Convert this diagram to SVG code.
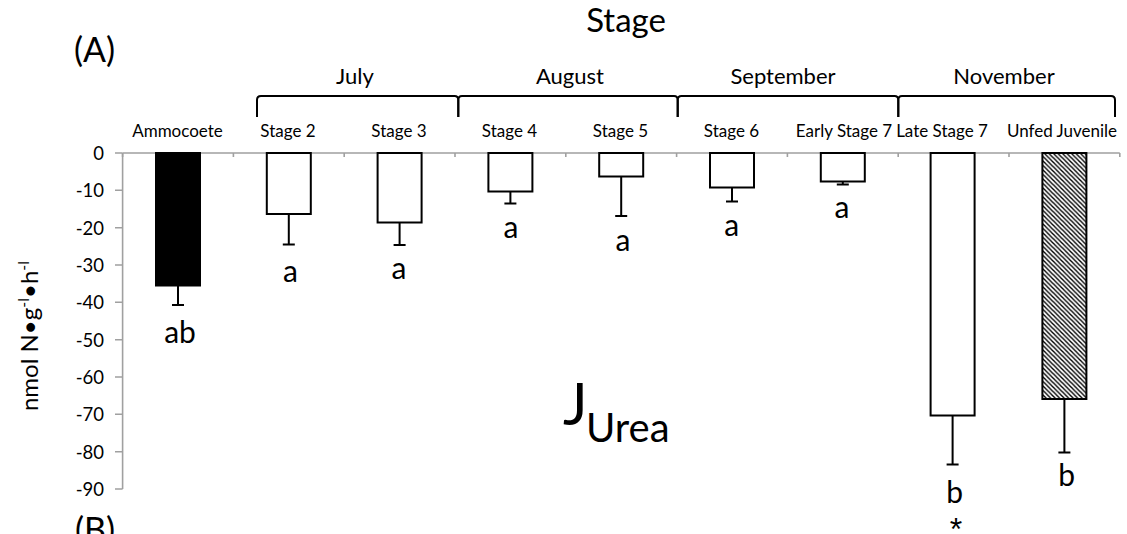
<svg xmlns="http://www.w3.org/2000/svg" width="1127" height="534" viewBox="0 0 1127 534">
<style>
text{font-family:Lato,"Liberation Sans",sans-serif;fill:#000}
.tick{font-size:18.5px;text-anchor:end}
.cat{font-size:17px;text-anchor:middle}
.mon{font-size:22px;text-anchor:middle}
.let{font-size:30px;text-anchor:middle}
.ax{stroke:#a0a0a0;stroke-width:1.6;fill:none}
.bar{stroke:#000;stroke-width:2;fill:#fff}
.err{stroke:#000;stroke-width:2;fill:none}
.br{stroke:#000;stroke-width:2;fill:none}
</style>
<defs>
<pattern id="hatch" patternUnits="userSpaceOnUse" width="4.5" height="4.5">
<rect width="4.5" height="4.5" fill="#fff"/>
<path d="M-1,-1 L5.5,5.5 M-1,3.5 L1,5.5 M3.5,-1 L5.5,1" stroke="#000" stroke-width="1.4"/>
</pattern>
</defs>
<rect width="1127" height="534" fill="#fff"/>

<text x="626" y="32" style="font-size:33px;text-anchor:middle">Stage</text>
<text x="74" y="62" style="font-size:34px">(A)</text>
<text x="75" y="542" style="font-size:34px">(B)</text>

<g id="axes">
<path class="ax" d="M122.6,153 V489 M115,153 H122.6 M115,190.3 H122.6 M115,227.7 H122.6 M115,265 H122.6 M115,302.3 H122.6 M115,339.7 H122.6 M115,377 H122.6 M115,414.3 H122.6 M115,451.7 H122.6 M115,489 H122.6"/>
<path class="ax" d="M122.6,153 H1119.8 M122.6,153 v4 M233.4,153 v4 M344.2,153 v4 M455,153 v4 M565.8,153 v4 M676.6,153 v4 M787.4,153 v4 M898.2,153 v4 M1009,153 v4 M1119.8,153 v4"/>
<text class="tick" x="104" y="160">0</text>
<text class="tick" x="104" y="197.3">-10</text>
<text class="tick" x="104" y="234.7">-20</text>
<text class="tick" x="104" y="272">-30</text>
<text class="tick" x="104" y="309.3">-40</text>
<text class="tick" x="104" y="346.7">-50</text>
<text class="tick" x="104" y="384">-60</text>
<text class="tick" x="104" y="421.3">-70</text>
<text class="tick" x="104" y="458.7">-80</text>
<text class="tick" x="104" y="496">-90</text>
<text transform="translate(38,336) rotate(-90)" style="font-size:24px;text-anchor:middle">nmol N•g<tspan dy="-9" font-size="16">-l</tspan><tspan dy="9">•h</tspan><tspan dy="-9" font-size="16">-l</tspan></text>
</g>

<g id="category-labels">
<text class="cat" x="177.5" y="137">Ammocoete</text>
<text class="cat" x="288" y="137">Stage 2</text>
<text class="cat" x="399" y="137">Stage 3</text>
<text class="cat" x="509.5" y="137">Stage 4</text>
<text class="cat" x="620.5" y="137">Stage 5</text>
<text class="cat" x="731.5" y="137">Stage 6</text>
<text class="cat" x="844" y="137">Early Stage 7</text>
<text class="cat" x="942" y="137">Late Stage 7</text>
<text class="cat" x="1062" y="137">Unfed Juvenile</text>
</g>

<g id="connectors">
<path class="br" d="M257,117 V100 Q257,96 261,96 H454.5 Q458.3,96 458.3,100 V117"/>
<path class="br" d="M458.3,117 V100 Q458.3,96 462,96 H674 Q677.7,96 677.7,100 V117"/>
<path class="br" d="M677.7,117 V100 Q677.7,96 681.5,96 H894.5 Q898.3,96 898.3,100 V117"/>
<path class="br" d="M898.3,117 V100 Q898.3,96 902,96 H1111 Q1115,96 1115,100 V117"/>
</g>
<g id="month-labels">
<text class="mon" x="355" y="83.5">July</text>
<text class="mon" x="570" y="83.5">August</text>
<text class="mon" x="783" y="83.5">September</text>
<text class="mon" x="1004" y="83.5">November</text>
</g>

<g id="bar-ammocoete">
<rect x="156" y="153" width="44" height="132.5" fill="#000" stroke="#000" stroke-width="2"/>
<path class="err" d="M178,285.5 V305 M172,305 H184"/>
<text class="let" x="180" y="343">ab</text>
</g>
<g id="bar-stage2">
<rect class="bar" x="266.8" y="153" width="44" height="61"/>
<path class="err" d="M288.8,214 V244.5 M282.8,244.5 H294.8"/>
<text class="let" x="290.5" y="281.7">a</text>
</g>
<g id="bar-stage3">
<rect class="bar" x="377.6" y="153" width="44" height="69.5"/>
<path class="err" d="M399.6,222.5 V245 M393.6,245 H405.6"/>
<text class="let" x="399" y="279.3">a</text>
</g>
<g id="bar-stage4">
<rect class="bar" x="488.4" y="153" width="44" height="38.5"/>
<path class="err" d="M510.4,191.5 V203.5 M504.4,203.5 H516.4"/>
<text class="let" x="511" y="237.7">a</text>
</g>
<g id="bar-stage5">
<rect class="bar" x="599.2" y="153" width="44" height="23.5"/>
<path class="err" d="M621.2,176.5 V216 M615.2,216 H627.2"/>
<text class="let" x="623" y="251">a</text>
</g>
<g id="bar-stage6">
<rect class="bar" x="710" y="153" width="44" height="34.5"/>
<path class="err" d="M732,187.5 V201.5 M726,201.5 H738"/>
<text class="let" x="731.7" y="236">a</text>
</g>
<g id="bar-early-stage7">
<rect class="bar" x="820.8" y="153" width="44" height="28.5"/>
<path class="err" d="M842.8,181.5 V184.5 M836.8,184.5 H848.8"/>
<text class="let" x="842" y="217.7">a</text>
</g>
<g id="bar-late-stage7">
<rect class="bar" x="930.6" y="153" width="44" height="262.5"/>
<path class="err" d="M952.6,415.5 V464.5 M946.6,464.5 H958.6"/>
<text class="let" x="954.7" y="503.3">b</text>
<text x="956" y="540" style="font-family:'Liberation Sans',sans-serif;font-size:32px;text-anchor:middle">*</text>
</g>
<g id="bar-unfed-juvenile">
<rect x="1042.4" y="153" width="44" height="246" fill="url(#hatch)" stroke="#000" stroke-width="2"/>
<path class="err" d="M1064.4,399 V452.5 M1058.4,452.5 H1070.4"/>
<text class="let" x="1066.7" y="485.7">b</text>
</g>

<g id="title">
<text x="563" y="425" style="font-size:58px">J</text>
<text x="586" y="441.7" style="font-size:40px">Urea</text>
</g>
</svg>
